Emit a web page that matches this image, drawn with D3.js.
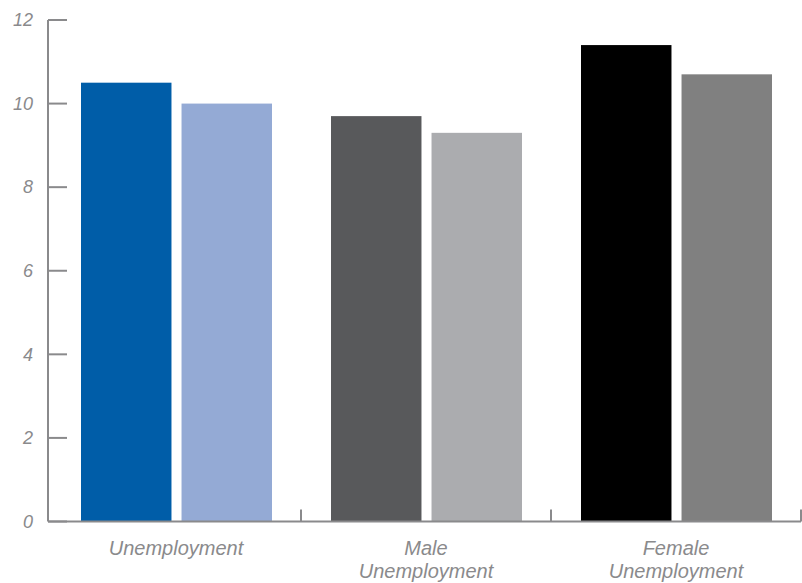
<!DOCTYPE html>
<html>
<head>
<meta charset="utf-8">
<script src="https://cdn.jsdelivr.net/npm/d3@7"></script>
<style>
  html, body { margin: 0; padding: 0; background: #ffffff; }
  svg { display: block; }
  .lbl { font-family: "Liberation Sans", Arial, sans-serif; font-style: italic; fill: #8a8a8c; }
</style>
</head>
<body>
<svg id="chart" width="802" height="583"></svg>
<script>
// Unemployment rates (%), two periods per category
const categories = [["Unemployment"], ["Male", "Unemployment"], ["Female", "Unemployment"]];
const firstPeriod = [10.5, 9.7, 11.4];
const secondPeriod = [10.0, 9.3, 10.7];
const yTicks = [0, 2, 4, 6, 8, 10, 12];
const firstColors = ["#005da8", "#58595b", "#000000"];
const secondColors = ["#94aad5", "#abacaf", "#808080"];

const svg = d3.select("#chart");
const axisColor = "#8a8a8c";

const axisX = 48, x0 = 51, x1 = 801, yBase = 521.5, yTop = 20;

const y = d3.scaleLinear().domain([0, 12]).range([yBase, yTop]);
const x = d3.scaleBand().domain(d3.range(categories.length)).range([x0, x1]).paddingInner(0).paddingOuter(0);
// two bars inside each band
const inner = d3.scaleBand().domain([0, 1]).range([30, x.bandwidth() - 29]).paddingInner(0.1).paddingOuter(0);

const rows = categories.map((c, i) => ({ i, vals: [firstPeriod[i], secondPeriod[i]], cols: [firstColors[i], secondColors[i]] }));

// bars
const g = svg.append("g");
rows.forEach(r => {
  g.selectAll(null)
    .data(r.vals)
    .enter().append("rect")
    .attr("x", (d, k) => x(r.i) + inner(k))
    .attr("width", inner.bandwidth())
    .attr("y", d => y(d))
    .attr("height", d => yBase - y(d))
    .attr("fill", (d, k) => r.cols[k]);
});

// y axis: line, inward ticks, italic labels
svg.append("line")
  .attr("x1", axisX).attr("x2", axisX).attr("y1", y(12)).attr("y2", yBase)
  .attr("stroke", axisColor).attr("stroke-width", 2);
svg.selectAll(".yt").data(yTicks).enter().append("line")
  .attr("x1", axisX).attr("x2", axisX + 19)
  .attr("y1", d => y(d)).attr("y2", d => y(d))
  .attr("stroke", axisColor).attr("stroke-width", 2);
svg.selectAll(".yl").data(yTicks).enter().append("text")
  .attr("class", "lbl")
  .attr("x", 33).attr("y", d => y(d)).attr("dy", "0.35em")
  .attr("text-anchor", "end").style("font-size", "18px")
  .text(d => d);

// x axis: baseline and upward ticks at band boundaries
svg.append("line")
  .attr("x1", axisX).attr("x2", x1).attr("y1", yBase).attr("y2", yBase)
  .attr("stroke", axisColor).attr("stroke-width", 2);
svg.selectAll(".xt").data(d3.range(1, categories.length + 1)).enter().append("line")
  .attr("x1", d => x0 + d * x.bandwidth()).attr("x2", d => x0 + d * x.bandwidth())
  .attr("y1", yBase).attr("y2", yBase - 12)
  .attr("stroke", axisColor).attr("stroke-width", 2);

// category labels
categories.forEach((lines, i) => {
  const t = svg.append("text").attr("class", "lbl")
    .attr("text-anchor", "middle").style("font-size", "20px");
  lines.forEach((s, k) => {
    t.append("tspan")
      .attr("x", x(i) + x.bandwidth() / 2)
      .attr("y", 555 + k * 23)
      .text(s);
  });
});
</script>
</body>
</html>
